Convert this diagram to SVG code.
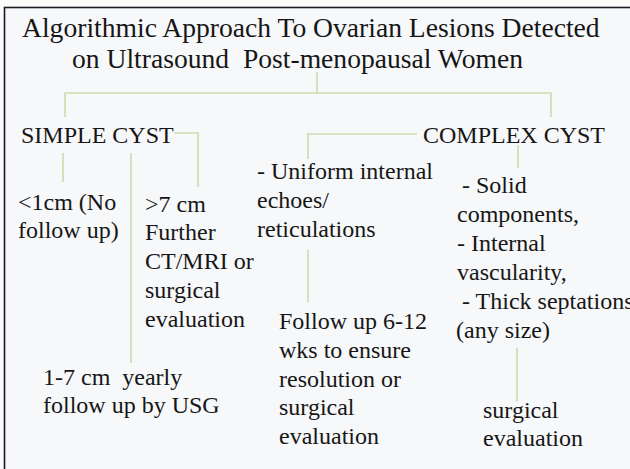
<svg xmlns="http://www.w3.org/2000/svg" width="630" height="469" viewBox="0 0 630 469">
<style>
.c{fill:none;stroke:#cfdaae;stroke-width:1.6;}
</style>
<rect x="0" y="0" width="630" height="469" fill="#fbfbfc"/>
<rect x="4.5" y="7.5" width="640" height="470" fill="#f7f8fa" stroke="#1a1a22" stroke-width="1.6"/>
<g id="title">
<text font-family="Liberation Serif" fill="#161616" font-size="27.6" x="22" y="37">Algorithmic Approach To Ovarian Lesions Detected</text>
<text font-family="Liberation Serif" fill="#161616" font-size="27.6" x="72" y="68" xml:space="preserve">on Ultrasound  Post-menopausal Women</text>
</g>
<g id="simple-cyst">
<text font-family="Liberation Serif" fill="#161616" font-size="24" x="21" y="143">SIMPLE CYST</text>
</g>
<g id="lt1cm">
<text font-family="Liberation Serif" fill="#161616" font-size="24" x="18" y="210">&lt;1cm (No</text>
<text font-family="Liberation Serif" fill="#161616" font-size="24" x="18" y="238">follow up)</text>
</g>
<g id="gt7cm">
<text font-family="Liberation Serif" fill="#161616" font-size="24" x="145" y="212">&gt;7 cm</text>
<text font-family="Liberation Serif" fill="#161616" font-size="24" x="145" y="240">Further</text>
<text font-family="Liberation Serif" fill="#161616" font-size="24" x="145" y="269">CT/MRI or</text>
<text font-family="Liberation Serif" fill="#161616" font-size="24" x="145" y="298">surgical</text>
<text font-family="Liberation Serif" fill="#161616" font-size="24" x="145" y="327">evaluation</text>
</g>
<g id="cm1-7">
<text font-family="Liberation Serif" fill="#161616" font-size="24" x="43" y="385" xml:space="preserve">1-7 cm  yearly</text>
<text font-family="Liberation Serif" fill="#161616" font-size="24" x="43" y="413">follow up by USG</text>
</g>
<g id="complex-cyst">
<text font-family="Liberation Serif" fill="#161616" font-size="24" x="423" y="143">COMPLEX CYST</text>
</g>
<g id="uniform">
<text font-family="Liberation Serif" fill="#161616" font-size="24" x="257" y="179">- Uniform internal</text>
<text font-family="Liberation Serif" fill="#161616" font-size="24" x="257" y="208">echoes/</text>
<text font-family="Liberation Serif" fill="#161616" font-size="24" x="257" y="237">reticulations</text>
</g>
<g id="follow-up">
<text font-family="Liberation Serif" fill="#161616" font-size="24" x="279" y="329">Follow up 6-12</text>
<text font-family="Liberation Serif" fill="#161616" font-size="24" x="279" y="358">wks to ensure</text>
<text font-family="Liberation Serif" fill="#161616" font-size="24" x="279" y="387">resolution or</text>
<text font-family="Liberation Serif" fill="#161616" font-size="24" x="279" y="415">surgical</text>
<text font-family="Liberation Serif" fill="#161616" font-size="24" x="279" y="444">evaluation</text>
</g>
<g id="solid">
<text font-family="Liberation Serif" fill="#161616" font-size="24" x="462" y="193">- Solid</text>
<text font-family="Liberation Serif" fill="#161616" font-size="24" x="457" y="222">components,</text>
<text font-family="Liberation Serif" fill="#161616" font-size="24" x="457" y="251">- Internal</text>
<text font-family="Liberation Serif" fill="#161616" font-size="24" x="457" y="280">vascularity,</text>
<text font-family="Liberation Serif" fill="#161616" font-size="24" x="462" y="309">- Thick septations</text>
<text font-family="Liberation Serif" fill="#161616" font-size="24" x="456" y="338">(any size)</text>
</g>
<g id="surgical">
<text font-family="Liberation Serif" fill="#161616" font-size="24" x="483" y="418">surgical</text>
<text font-family="Liberation Serif" fill="#161616" font-size="24" x="483" y="446">evaluation</text>
</g>
<g id="connectors">
<path class="c" d="M317,72 V93 M65,117 V93 H551 V117"/>
<path class="c" d="M174,133 H198 V187"/>
<path class="c" d="M63,153 V182"/>
<path class="c" d="M131,153 V363"/>
<path class="c" d="M417,134 H308 V159"/>
<path class="c" d="M308,250 V302"/>
<path class="c" d="M518,145 V168"/>
<path class="c" d="M517,348 V402"/>
</g>
</svg>
